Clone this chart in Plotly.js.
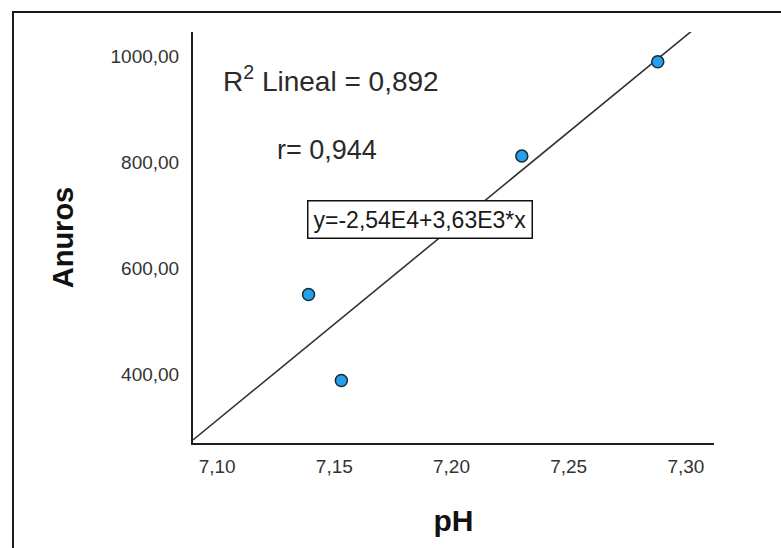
<!DOCTYPE html>
<html>
<head>
<meta charset="utf-8">
<script src="https://cdn.plot.ly/plotly-3.0.1.min.js"></script>
<style>
  html, body { margin: 0; padding: 0; background: #ffffff; }
  #chart { width: 781px; height: 548px; }
</style>
</head>
<body>
<div id="chart"></div>
<script>
// ---- Data ----
var phValues = [7.139, 7.153, 7.230, 7.288];
var anurosValues = [550, 388, 811, 989];

var xTickVals = [7.10, 7.15, 7.20, 7.25, 7.30];
var xTickText = ["7,10", "7,15", "7,20", "7,25", "7,30"];
var yTickVals = [400, 600, 800, 1000];
var yTickText = ["400,00", "600,00", "800,00", "1000,00"];

var xTitle = "pH";
var yTitle = "Anuros";
var r2Label = "R<sup>2</sup> Lineal = 0,892";
var rLabel = "r= 0,944";
var eqLabel = "y=-2,54E4+3,63E3*x";

var xRange = [7.0897, 7.312];
var yRange = [270, 1045];

// ---- Least-squares fit line from the data ----
var n = phValues.length;
var mx = phValues.reduce(function (a, b) { return a + b; }, 0) / n;
var my = anurosValues.reduce(function (a, b) { return a + b; }, 0) / n;
var sxy = 0, sxx = 0;
for (var i = 0; i < n; i++) {
  sxy += (phValues[i] - mx) * (anurosValues[i] - my);
  sxx += (phValues[i] - mx) * (phValues[i] - mx);
}
var slope = sxy / sxx;
var intercept = my - slope * mx;
var fitX = [xRange[0], xRange[1]];
var fitY = fitX.map(function (x) { return intercept + slope * x; });

var fontFam = "Liberation Sans, Arial, sans-serif";

var traces = [
  {
    x: fitX, y: fitY, type: "scatter", mode: "lines",
    line: { color: "#333333", width: 1.6 },
    hoverinfo: "skip", showlegend: false
  },
  {
    x: phValues, y: anurosValues, type: "scatter", mode: "markers",
    marker: { size: 12, color: "#24a1eb", line: { color: "#1c2833", width: 1.5 } },
    showlegend: false
  }
];

var layout = {
  width: 781, height: 548,
  margin: { l: 193, r: 67, t: 32, b: 105 },
  paper_bgcolor: "#ffffff", plot_bgcolor: "#ffffff",
  showlegend: false,
  font: { family: fontFam, color: "#2a2a2a" },
  xaxis: {
    range: xRange, tickvals: xTickVals, ticktext: xTickText,
    showline: true, linecolor: "#1e1e1e", linewidth: 2,
    showgrid: false, zeroline: false, ticks: "",
    ticklabelstandoff: 5,
    tickfont: { family: fontFam, size: 19, color: "#333333" },
    title: { text: xTitle, font: { family: fontFam, size: 30, color: "#111111", weight: "bold" }, standoff: 34 }
  },
  yaxis: {
    range: yRange, tickvals: yTickVals, ticktext: yTickText,
    showline: true, linecolor: "#1e1e1e", linewidth: 2,
    showgrid: false, zeroline: false, ticks: "",
    ticklabelstandoff: 8,
    tickfont: { family: fontFam, size: 19, color: "#333333" },
    title: { text: yTitle, font: { family: fontFam, size: 29, color: "#111111", weight: "bold" }, standoff: 28 }
  },
  shapes: [
    {
      type: "rect", xref: "paper", yref: "paper",
      x0: -0.3455, x1: 1.2, y0: -0.35, y1: 1.0487,
      line: { color: "#1a1a1a", width: 2 }, fillcolor: "rgba(0,0,0,0)", layer: "below"
    }
  ],
  annotations: [
    {
      text: r2Label, xref: "paper", yref: "paper", x: 0.053, y: 0.8856,
      xanchor: "left", yanchor: "middle", showarrow: false,
      font: { family: fontFam, size: 28, color: "#2a2a2a" }
    },
    {
      text: rLabel, xref: "paper", yref: "paper", x: 0.158, y: 0.7129,
      xanchor: "left", yanchor: "middle", showarrow: false,
      font: { family: fontFam, size: 27, color: "#2a2a2a" }
    },
    {
      text: eqLabel, xref: "paper", yref: "paper", x: 0.4351, y: 0.5438,
      xanchor: "center", yanchor: "middle", showarrow: false,
      font: { family: fontFam, size: 23, color: "#1a1a1a" },
      bgcolor: "#ffffff", bordercolor: "#111111", borderwidth: 1.5, borderpad: 5
    }
  ]
};

Plotly.newPlot("chart", traces, layout, { staticPlot: true, displayModeBar: false });
</script>
</body>
</html>
